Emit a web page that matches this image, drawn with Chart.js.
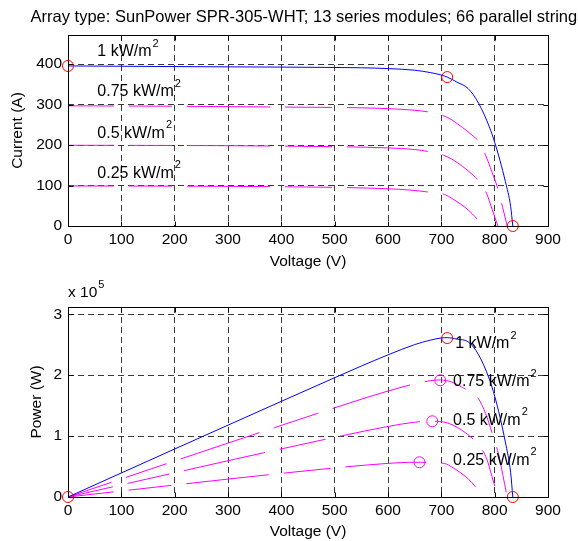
<!DOCTYPE html>
<html><head><meta charset="utf-8">
<script src="https://cdn.jsdelivr.net/npm/chart.js@4.4.1/dist/chart.umd.min.js"></script>
<style>
html,body{margin:0;padding:0;background:#fff;}
#wrap{position:relative;width:578px;height:541px;overflow:hidden;}
canvas{position:absolute;left:0;}
#c1{top:0;}
#c2{top:270px;}
</style></head><body>
<div id="wrap">
<canvas id="c1" width="578" height="270"></canvas>
<canvas id="c2" width="578" height="271"></canvas>
</div>
<script>
// ---------- data ----------
const titleText = 'Array type: SunPower SPR-305-WHT; 13 series modules; 66 parallel strings';
const irradianceLabels = ['1 kW/m', '0.75 kW/m', '0.5 kW/m', '0.25 kW/m'];
const xTicks = [0, 100, 200, 300, 400, 500, 600, 700, 800, 900];
const currentTicks = [0, 100, 200, 300, 400];
const powerTicks = [0, 1, 2, 3]; // x 10^5 W

// 1 kW/m2
const volt100 = [0, 100, 200, 300, 400, 500, 550, 600, 650, 680, 700, 711, 730, 750, 770, 790, 800, 810, 820, 830, 834];
const curr100 = [395.5, 394.8, 394, 393.3, 392.7, 391.8, 391, 389, 385, 379, 373, 368, 355, 340, 303, 245, 207, 162, 110, 48, 0];
// 0.75 kW/m2
const volt75 = [0, 100, 200, 300, 400, 500, 550, 600, 650, 680, 698, 710, 720, 740, 760, 770, 783, 795, 807, 815, 823.5];
const curr75 = [297, 296.5, 296, 295, 294, 293, 292, 290, 286, 281, 275.5, 269, 262, 243, 222, 209, 175, 133, 88, 46, 0];
// 0.5 kW/m2
const volt50 = [0, 100, 200, 300, 400, 500, 600, 650, 683, 704, 720, 740, 760, 771, 785, 795, 806];
const curr50 = [199.5, 199.3, 199, 198.5, 197.5, 196, 193, 189, 182, 175, 165, 147, 125, 110, 80, 42, 0];
// 0.25 kW/m2
const volt25 = [0, 100, 200, 300, 400, 500, 600, 640, 660, 680, 706, 720, 735, 750, 769, 776];
const curr25 = [99, 98.8, 98.5, 98, 97, 95.5, 92, 89, 86.5, 83, 78, 68, 55, 40, 14, 0];

// special points
const ivMarkVolt = [0, 711, 834];
const ivMarkCurr = [395.5, 368, 0];
const mppVolt = [711, 698, 683, 659];
const mppPower = [2.61e5, 1.916e5, 1.243e5, 0.57e5];
const pvEndVolt = [0, 834];
const pvEndPower = [0, 0];

// ---------- helpers ----------
const FONT = "'Liberation Sans', Arial, sans-serif";
const FS = 15.5;      // ticks and axis titles
const LFS = 16;       // curve labels
const TFS = 16.5;     // title
const BLUE = '#0000ff', MAG = '#ff00ff', RED = '#ff0000';
const DASH = [46, 15, 43, 15, 83, 15, 47, 15, 81, 15, 43, 15, 38, 15];

const zip = (xs, ys) => xs.map((x, i) => ({x: x, y: ys[i]}));
const powerOf = (vs, is) => vs.map((v, i) => ({x: v, y: v * is[i]}));

function lineDs(data, color, dashed) {
  return {data, borderColor: color, borderWidth: 1, pointRadius: 0, fill: false,
    cubicInterpolationMode: 'monotone', borderDash: dashed ? DASH : [], order: 2};
}
function markDs(data, color) {
  return {data, showLine: false, pointStyle: 'circle', pointRadius: 5.5, pointHoverRadius: 5.5,
    borderColor: color, backgroundColor: 'rgba(0,0,0,0)', pointBorderWidth: 1, clip: false, order: 1};
}

function supText(ctx, base, sup, x, y, fs, sfs) {
  ctx.font = fs + 'px ' + FONT;
  ctx.textAlign = 'left';
  ctx.textBaseline = 'middle';
  ctx.fillText(base, x, y);
  const w = ctx.measureText(base).width;
  ctx.font = sfs + 'px ' + FONT;
  ctx.fillText(sup, x + w + 1, y - 8);
}

const framePlugin = {
  id: 'frame',
  afterDraw(chart, args, o) {
    const {ctx, chartArea: a, scales: {x, y}} = chart;
    ctx.save();
    ctx.strokeStyle = '#000';
    ctx.lineWidth = 1;
    ctx.setLineDash([]);
    const L = Math.round(a.left) + 0.5, R = Math.round(a.right) + 0.5;
    const T = Math.round(a.top) + 0.5, B = Math.round(a.bottom) + 0.5;
    ctx.beginPath();
    ctx.rect(L, T, R - L, B - T);
    x.ticks.forEach(t => {
      const p = Math.round(x.getPixelForValue(t.value)) + 0.5;
      ctx.moveTo(p, B); ctx.lineTo(p, B - 5);
      ctx.moveTo(p, T); ctx.lineTo(p, T + 5);
    });
    y.ticks.forEach(t => {
      const p = Math.round(y.getPixelForValue(t.value)) + 0.5;
      ctx.moveTo(L, p); ctx.lineTo(L + 5, p);
      ctx.moveTo(R, p); ctx.lineTo(R - 5, p);
    });
    ctx.stroke();
    ctx.fillStyle = '#000';
    // curve labels
    (o.labels || []).forEach((lb, i) => {
      supText(ctx, irradianceLabels[i], '2', x.getPixelForValue(lb[0]), y.getPixelForValue(lb[1]), LFS, 11);
    });
    // axis titles
    ctx.font = FS + 'px ' + FONT;
    ctx.textAlign = 'center';
    ctx.textBaseline = 'middle';
    ctx.fillText('Voltage (V)', (a.left + a.right) / 2, o.xTitleY);
    ctx.save();
    ctx.translate(o.yTitleX, (a.top + a.bottom) / 2);
    ctx.rotate(-Math.PI / 2);
    ctx.fillText(o.yTitle, 0, 0);
    ctx.restore();
    if (o.title) {
      ctx.font = TFS + 'px ' + FONT;
      ctx.textAlign = 'center';
      ctx.fillText(o.title, (a.left + a.right) / 2, 17);
    }
    if (o.exponent) {
      supText(ctx, 'x 10', '5', a.left, a.top - 14, FS, 11);
    }
    ctx.restore();
  }
};

function makeChart(id, datasets, yMax, yTickVals, yFmt, frameOpts, top) {
  return new Chart(document.getElementById(id), {
    type: 'line',
    data: {datasets},
    plugins: [framePlugin],
    options: {
      responsive: false,
      animation: false,
      events: [],
      layout: {padding: {left: 0, right: 30, top: top, bottom: 0}},
      plugins: {legend: {display: false}, tooltip: {enabled: false}, frame: frameOpts},
      scales: {
        x: {
          type: 'linear', min: 0, max: 900,
          afterBuildTicks: s => { s.ticks = xTicks.map(v => ({value: v})); },
          afterFit: s => { s.height = 44; },
          ticks: {padding: 4, color: '#000', font: {family: FONT, size: FS}, maxRotation: 0, autoSkip: false},
          grid: {color: '#3a3a3a', lineWidth: 1, drawTicks: false},
          border: {display: false, dash: [6, 4]}
        },
        y: {
          type: 'linear', min: 0, max: yMax,
          afterBuildTicks: s => { s.ticks = yTickVals.map(v => ({value: v})); },
          afterFit: s => { s.width = 68; },
          ticks: {padding: 6, color: '#000', font: {family: FONT, size: FS}, callback: yFmt, autoSkip: false},
          grid: {color: '#3a3a3a', lineWidth: 1, drawTicks: false},
          border: {display: false, dash: [6, 4]}
        }
      }
    }
  });
}

Chart.defaults.font.family = FONT;

// ---------- top: I-V ----------
makeChart('c1', [
  lineDs(zip(volt100, curr100), BLUE, false),
  lineDs(zip(volt75, curr75), MAG, true),
  lineDs(zip(volt50, curr50), MAG, true),
  lineDs(zip(volt25, curr25), MAG, true),
  markDs(zip(ivMarkVolt, ivMarkCurr), RED)
], 472, currentTicks, v => v, {
  labels: [[55, 430], [55, 331], [55, 229], [55, 130]],
  xTitleY: 262, yTitleX: 18, yTitle: 'Current (A)', title: titleText
}, 35);

// ---------- bottom: P-V ----------
makeChart('c2', [
  lineDs(powerOf(volt100, curr100), BLUE, false),
  lineDs(powerOf(volt75, curr75), MAG, true),
  lineDs(powerOf(volt50, curr50), MAG, true),
  lineDs(powerOf(volt25, curr25), MAG, true),
  markDs([{x: mppVolt[0], y: mppPower[0]}].concat(zip(pvEndVolt, pvEndPower)), RED),
  markDs(zip(mppVolt.slice(1), mppPower.slice(1)), MAG)
], 3.12e5, powerTicks.map(v => v * 1e5), v => v / 1e5, {
  labels: [[726, 2.52e5], [722, 1.89e5], [722, 1.26e5], [722, 0.60e5]],
  xTitleY: 261.5, yTitleX: 37, yTitle: 'Power (W)', exponent: true
}, 37);
</script>
</body></html>
